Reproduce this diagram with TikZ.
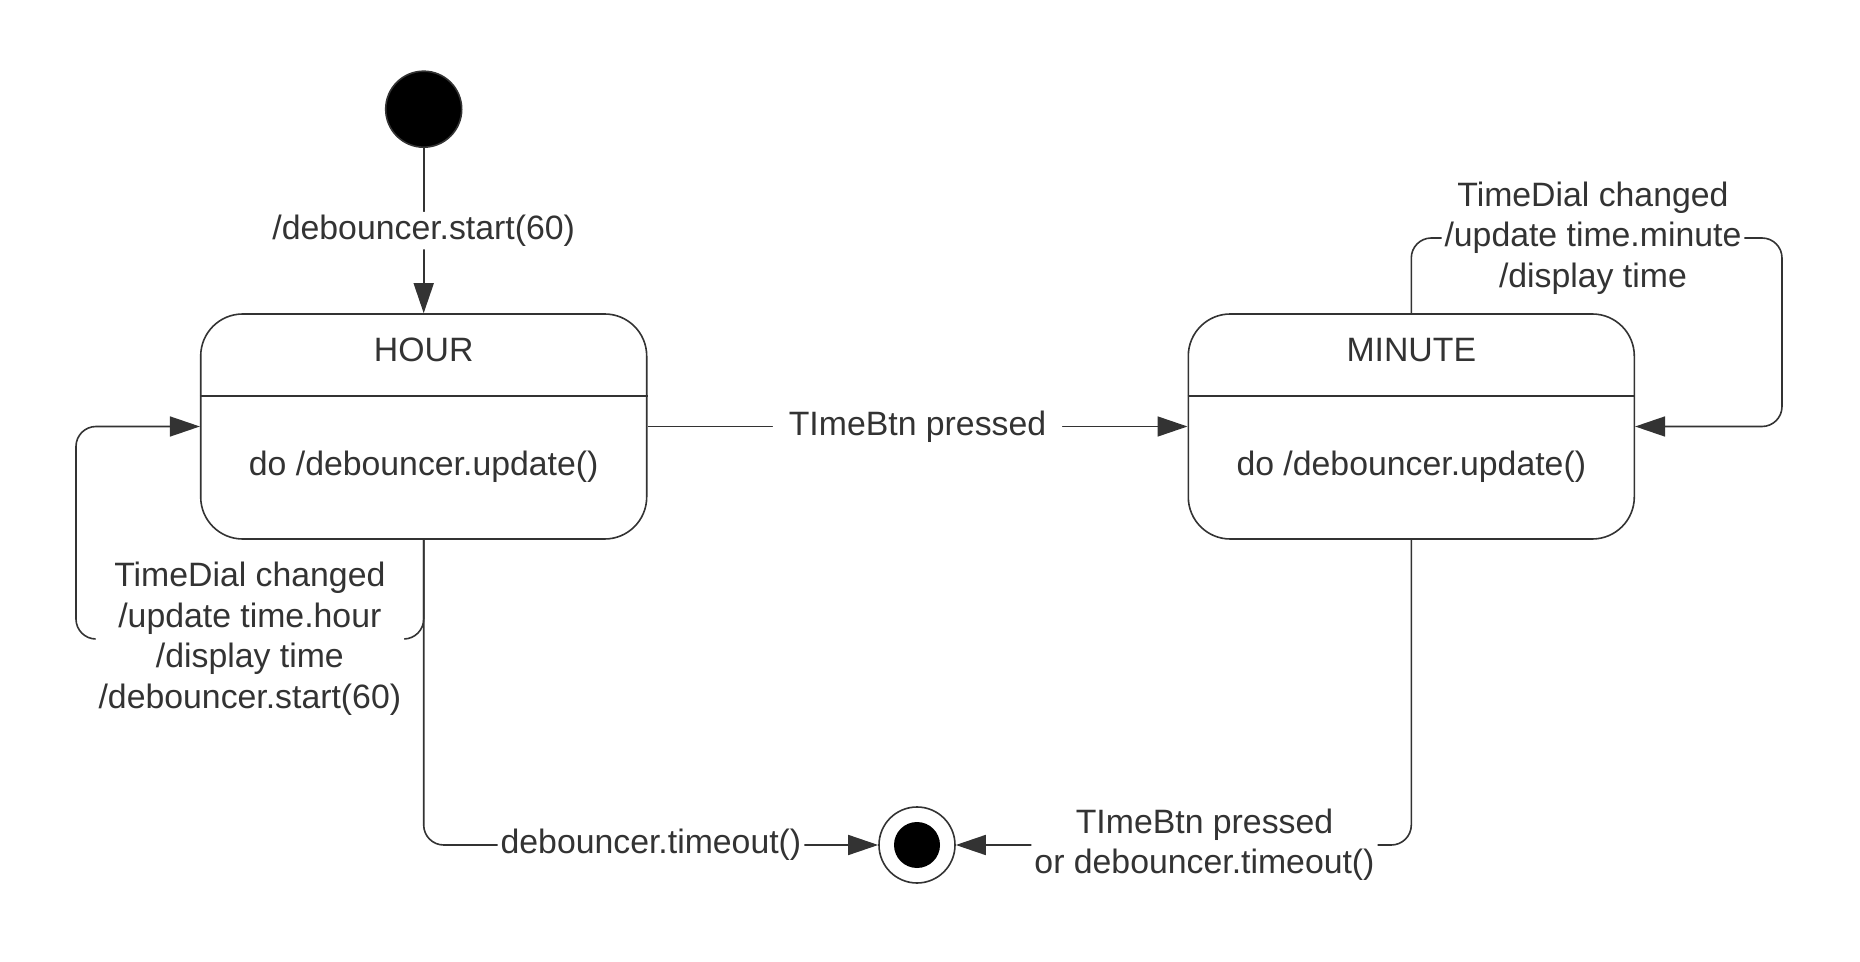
\documentclass[tikz,border=0pt]{standalone}
\usepackage{fontspec}
\setmainfont{Liberation Sans}
\usetikzlibrary{arrows.meta,positioning}
\definecolor{ink}{HTML}{333333}

\begin{document}
\begin{tikzpicture}[x=0.5pt,y=-0.5pt,>={Triangle[length=15pt,width=10pt]},
		font=\fontsize{16.9}{20.25}\selectfont,color=ink,line width=0.8pt,
		statebox/.style={draw,rectangle,rounded corners=21pt,minimum width=223pt,minimum height=112.5pt,inner sep=0pt},
		trans/.style={->,rounded corners=10pt},
		lbl/.style={fill=white,inner sep=1.5pt,align=center},
		startdot/.style={circle,draw,fill=black,minimum size=38pt,inner sep=0pt},
		enddot/.style={circle,draw,fill=white,minimum size=38pt,inner sep=0pt}]
		\useasboundingbox (0,0) rectangle (1860,962);
		
		% the two states
		\node[statebox] (hour) at (423.7,426.5) {};
		\node[statebox,right=270pt of hour] (minute) {};
		\draw[line width=1pt] ([yshift=-41.5pt]hour.north west) -- ([yshift=-41.5pt]hour.north east);
		\draw[line width=1pt] ([yshift=-41.5pt]minute.north west) -- ([yshift=-41.5pt]minute.north east);
		\node (hourname) at ([yshift=-18.5pt]hour.north) {HOUR};
		\node (hourdo) at ([yshift=-77pt]hour.north) {do /debouncer.update()};
		\node (minutename) at ([yshift=-18.5pt]minute.north) {MINUTE};
		\node (minutedo) at ([yshift=-77pt]minute.north) {do /debouncer.update()};
		
		% start and end
		\node[startdot,above=82.6pt of hour] (init) {};
		\node[enddot] (final) at (917,845) {};
		\node[circle,fill=black,minimum size=23pt,inner sep=0pt] (finaldot) at (final) {};
		
		% the loops
		\coordinate (hourloop) at (76,639);
		\coordinate (minuteloop) at (1782,238);
		
		% the arrows and labels
		\draw[trans] (init) -- node[lbl] {/debouncer.start(60)} (hour);
		\draw[trans] (hour) -- node[lbl,inner xsep=8pt] {TImeBtn pressed} (minute);
		\draw[trans] (hour.south) |- node[lbl,pos=0.75] {TimeDial changed\\/update time.hour\\/display time\\/debouncer.start(60)} (hourloop) |- (hour.west);
		\draw[trans] (minute.north) |- node[lbl,pos=0.745] {TimeDial changed\\/update time.minute\\/display time} (minuteloop) |- (minute.east);
		\draw[trans] (hour.south) |- node[lbl,pos=0.75] {debouncer.timeout()} (final);
		\draw[trans] (minute.south) |- node[lbl,pos=0.727] {TImeBtn pressed\\or debouncer.timeout()} (final);
\end{tikzpicture}
\end{document}
